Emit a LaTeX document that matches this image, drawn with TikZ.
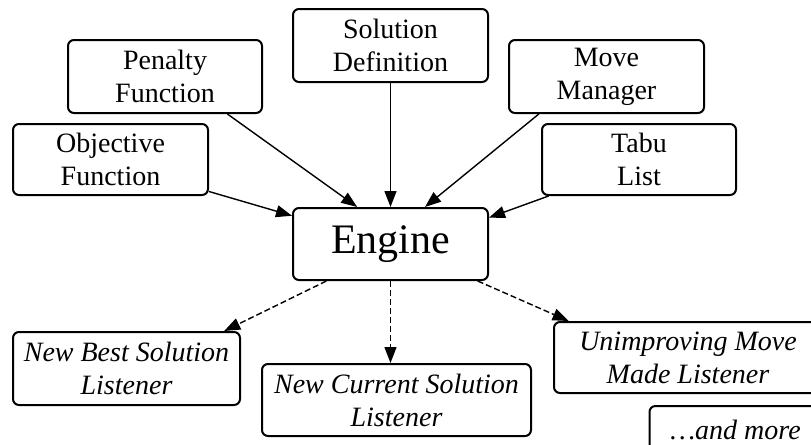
\documentclass[tikz,border=0pt]{standalone}
\usepackage{fontspec}
\setmainfont{Liberation Serif}
\usetikzlibrary{arrows.meta}
\begin{document}
\begin{tikzpicture}[x=0.5pt, y=-0.5pt, line width=0.7pt,
   box/.style={draw, line width=1pt, rounded corners=3pt, align=center, inner sep=0pt,
      font=\fontsize{14}{16.5}\selectfont},
   lbox/.style={box, font=\fontsize{14}{16.5}\selectfont\itshape},
   arr/.style={-{Triangle[length=8pt,width=6pt]}},
   larr/.style={arr, dash pattern=on 3pt off 1.5pt}]
      \clip (0,0) rectangle (811,445);
      \node[box, minimum width=97.5pt, minimum height=35.5pt] (obj) at (110.5,159.5) {Objective\\Function};
      \node[box, minimum width=97pt, minimum height=36.5pt] (pen) at (165,76.5) {Penalty\\Function};
      \node[box, minimum width=97.5pt, minimum height=36.5pt] (sol) at (390.5,45.5) {Solution\\Definition};
      \node[box, minimum width=97.5pt, minimum height=36.5pt] (mov) at (606.5,76.5) {Move\\Manager};
      \node[box, minimum width=97pt, minimum height=35.5pt] (tabu) at (639,159.5) {Tabu\\List};
      \node[box, minimum width=97.5pt, minimum height=36pt, font=\fontsize{21}{24}\selectfont] (eng) at (390.5,244) {Engine};
      \node[lbox, minimum width=113.5pt, minimum height=36.5pt] (best) at (126.5,368.5) {New Best Solution\\Listener};
      \node[lbox, minimum width=134.5pt, minimum height=36pt] (cur) at (396.5,400) {New Current Solution\\Listener};
      \node[lbox, minimum width=134pt, minimum height=35.5pt] (unimp) at (688,357.5) {Unimproving Move\\Made Listener};
      \node[lbox, minimum width=86pt, minimum height=24pt] (more) at (735.5,430) {…and more};
      \draw[arr] (obj.-18.6) -- (eng.164.5);
      \draw[arr] (pen.-31.7) -- (eng.132);
      \draw[arr] (sol) -- (eng);
      \draw[arr] (mov.-151.6) -- (eng.47);
      \draw[arr] (tabu.-158.7) -- (eng.15);
      \draw[larr] (eng.-150.5) -- (best.21);
      \draw[larr] (eng) -- (eng |- cur.north);
      \draw[larr] (eng.-23.6) -- (unimp.163);
   \end{tikzpicture}
\end{document}
